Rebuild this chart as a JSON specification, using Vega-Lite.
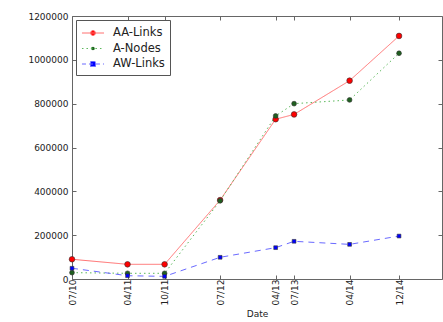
{
  "$schema": "https://vega.github.io/schema/vega-lite/v6.json",
  "autosize": "none",
  "width": 370,
  "height": 263,
  "padding": {"left": 72, "top": 16, "right": 1, "bottom": 43},
  "background": "white",
  "config": {
    "view": {"stroke": "#666", "strokeWidth": 1},
    "font": "DejaVu Sans",
    "axis": {"grid": false, "domain": false, "labelFont": "DejaVu Sans", "labelFontSize": 9, "labelColor": "#222", "tickColor": "#666", "titleFont": "DejaVu Sans", "titleFontWeight": "normal", "titleFontSize": 9, "titleColor": "#222"}
  },
  "data": {"values": [
    {"date": "2010-07-01", "series": "AA-Links", "value": 90000},
    {"date": "2011-04-01", "series": "AA-Links", "value": 67000},
    {"date": "2011-10-01", "series": "AA-Links", "value": 67000},
    {"date": "2012-07-01", "series": "AA-Links", "value": 360000},
    {"date": "2013-04-01", "series": "AA-Links", "value": 729000},
    {"date": "2013-07-01", "series": "AA-Links", "value": 751000},
    {"date": "2014-04-01", "series": "AA-Links", "value": 905000},
    {"date": "2014-12-01", "series": "AA-Links", "value": 1109000},
    {"date": "2010-07-01", "series": "A-Nodes", "value": 29000},
    {"date": "2011-04-01", "series": "A-Nodes", "value": 26000},
    {"date": "2011-10-01", "series": "A-Nodes", "value": 26000},
    {"date": "2012-07-01", "series": "A-Nodes", "value": 357000},
    {"date": "2013-04-01", "series": "A-Nodes", "value": 744000},
    {"date": "2013-07-01", "series": "A-Nodes", "value": 800000},
    {"date": "2014-04-01", "series": "A-Nodes", "value": 817000},
    {"date": "2014-12-01", "series": "A-Nodes", "value": 1030000},
    {"date": "2010-07-01", "series": "AW-Links", "value": 49000},
    {"date": "2011-04-01", "series": "AW-Links", "value": 15000},
    {"date": "2011-10-01", "series": "AW-Links", "value": 12000},
    {"date": "2012-07-01", "series": "AW-Links", "value": 99000},
    {"date": "2013-04-01", "series": "AW-Links", "value": 143000},
    {"date": "2013-07-01", "series": "AW-Links", "value": 172000},
    {"date": "2014-04-01", "series": "AW-Links", "value": 158000},
    {"date": "2014-12-01", "series": "AW-Links", "value": 196000}
  ]},
  "layer": [
    {
      "encoding": {
        "x": {"field": "date", "type": "temporal", "title": "Date",
          "scale": {"domain": ["2010-07-01", "2015-07-01"]},
          "axis": {"values": ["2010-07-01", "2011-04-01", "2011-10-01", "2012-07-01", "2013-04-01", "2013-07-01", "2014-04-01", "2014-12-01"], "format": "%m/%y", "labelAngle": 270, "tickSize": -4, "labelPadding": 4, "titlePadding": 5}},
        "y": {"field": "value", "type": "quantitative", "title": null,
          "scale": {"domain": [0, 1200000], "nice": false},
          "axis": {"values": [0, 200000, 400000, 600000, 800000, 1000000, 1200000], "format": "d", "tickSize": -4, "labelPadding": 8}}
      },
      "layer": [
        {
          "mark": {"type": "line", "strokeWidth": 1},
          "encoding": {
            "color": {"field": "series", "type": "nominal", "sort": ["AA-Links", "A-Nodes", "AW-Links"],
              "scale": {"domain": ["AA-Links", "A-Nodes", "AW-Links"], "range": ["#ff7070", "#5cb85c", "#6a6aff"]},
              "legend": {"title": null, "orient": "top-left", "offset": 4, "padding": 5, "strokeColor": "#555", "fillColor": "white",
                "labelFont": "DejaVu Sans", "labelFontSize": 11.5, "labelColor": "#222", "labelOffset": 12, "symbolSize": 225, "symbolOffset": 4, "rowPadding": 1.5,
                "encode": {"symbols": {"update": {
                  "shape": {"signal": "datum.value === 'AA-Links' ? 'M-1.47,0H1.47M-0.33,0A0.33,0.33 0 1,1 0.33,0A0.33,0.33 0 1,1 -0.33,0Z' : datum.value === 'A-Nodes' ? 'M-1.47,0H1.47M-0.22,0A0.22,0.22 0 1,1 0.22,0A0.22,0.22 0 1,1 -0.22,0Z' : 'M-1.47,0H1.47M-0.33,-0.33H0.33V0.33H-0.33Z'"},
                  "fill": {"signal": "datum.value === 'AA-Links' ? '#ff0000' : datum.value === 'A-Nodes' ? '#1f5f1f' : '#0000ff'"},
                  "strokeDash": {"signal": "datum.value === 'AA-Links' ? [] : datum.value === 'A-Nodes' ? [1.5, 3] : [4, 3]"},
                  "strokeWidth": {"value": 1},
                  "opacity": {"value": 1}
                }}}}},
            "strokeDash": {"field": "series", "type": "nominal", "legend": null,
              "scale": {"domain": ["AA-Links", "A-Nodes", "AW-Links"], "range": [[1, 0], [1.5, 3], [6, 5]]}}
          }
        },
        {
          "mark": {"type": "point", "filled": true, "opacity": 1, "strokeWidth": 0.6},
          "encoding": {
            "color": {"field": "series", "type": "nominal", "legend": null,
              "scale": {"domain": ["AA-Links", "A-Nodes", "AW-Links"], "range": ["#ff0000", "#1f5f1f", "#0000ff"]}},
            "shape": {"field": "series", "type": "nominal", "legend": null,
              "scale": {"domain": ["AA-Links", "A-Nodes", "AW-Links"], "range": ["circle", "circle", "square"]}},
            "size": {"field": "series", "type": "nominal", "legend": null,
              "scale": {"domain": ["AA-Links", "A-Nodes", "AW-Links"], "range": [32, 14, 32]}},
            "stroke": {"value": "#333"}
          }
        }
      ],
      "resolve": {"scale": {"color": "independent"}}
    },
    {
      "mark": {"type": "point", "opacity": 0},
      "encoding": {
        "x": {"field": "date", "type": "temporal",
          "axis": {"orient": "top", "values": ["2010-07-01", "2011-04-01", "2011-10-01", "2012-07-01", "2013-04-01", "2013-07-01", "2014-04-01", "2014-12-01"], "labels": false, "tickSize": -4, "title": null}},
        "y": {"field": "value", "type": "quantitative",
          "axis": {"orient": "right", "values": [0, 200000, 400000, 600000, 800000, 1000000, 1200000], "labels": false, "tickSize": -4, "title": null}}
      }
    }
  ],
  "resolve": {"axis": {"x": "independent", "y": "independent"}}
}
